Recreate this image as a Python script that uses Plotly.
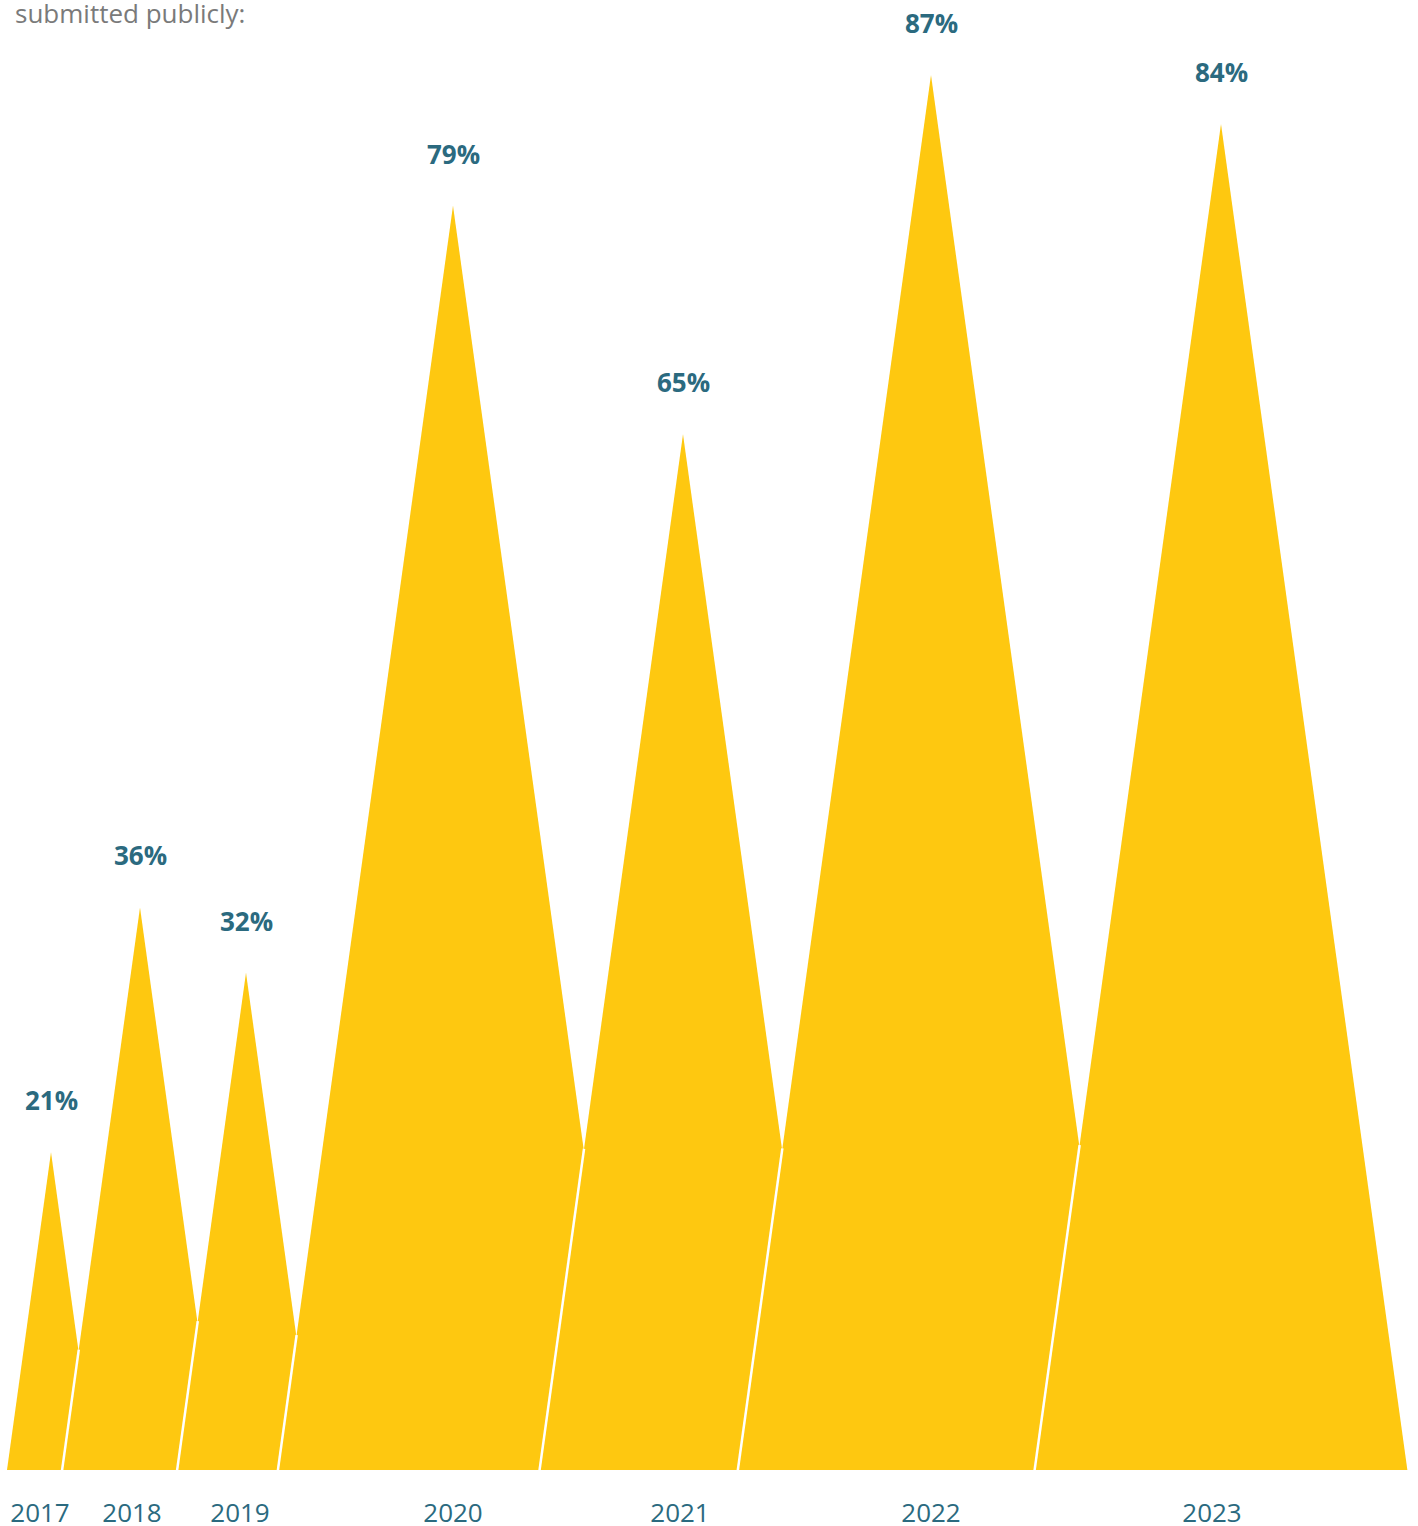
import plotly.graph_objects as go

# Share of submissions made public, by year
years = ["2017", "2018", "2019", "2020", "2021", "2022", "2023"]
share_pct = [21, 36, 32, 79, 65, 87, 84]

# Horizontal layout of the peaks (axis units) and where each year label sits
peak_x = [51, 140, 246, 453, 683, 931, 1221]
label_x = [40, 132, 240, 453, 680, 931, 1212]

# Half of a peak's base width per percentage point (all peaks share one slope)
HALF_BASE_PER_PCT = 2.26

YELLOW = "#fec810"
TEAL = "#2b6a7f"
GREY = "#7a7a7a"
FONT = "Open Sans"

k = HALF_BASE_PER_PCT
fig = go.Figure()

for i, (yr, v, xc) in enumerate(zip(years, share_pct, peak_x)):
    hw = v * k
    # the peak itself
    fig.add_trace(go.Scatter(
        x=[xc - hw, xc, xc + hw, xc - hw],
        y=[0, v, 0, 0],
        mode="lines",
        fill="toself",
        fillcolor=YELLOW,
        line=dict(width=0, color=YELLOW),
        hoverinfo="skip",
        name=yr,
        showlegend=False,
    ))
    # white seam along the left flank, up to where it meets the previous peak
    if i > 0:
        pv, pxc = share_pct[i - 1], peak_x[i - 1]
        y_meet = (pxc - xc) / (2 * k) + (pv + v) / 2
        y_top = min(v, y_meet + 0.1)
        fig.add_trace(go.Scatter(
            x=[xc - hw, xc - k * (v - y_top)],
            y=[0, y_top],
            mode="lines",
            line=dict(color="white", width=2.5),
            hoverinfo="skip",
            showlegend=False,
        ))
    fig.add_annotation(
        x=xc, y=v, text=f"<b>{v}%</b>", showarrow=False,
        yanchor="middle", yshift=52,
        font=dict(family=FONT, size=26, color=TEAL),
    )

fig.add_annotation(
    xref="paper", yref="paper", x=0.0, y=1.0,
    xanchor="left", yanchor="middle", xshift=13, yshift=-13,
    text="submitted publicly:", showarrow=False,
    font=dict(family=FONT, size=26, color=GREY),
)

fig.update_layout(
    template="none",
    width=1418, height=1526,
    margin=dict(l=0, r=0, t=0, b=56, pad=0, autoexpand=False),
    plot_bgcolor="white", paper_bgcolor="white",
    font=dict(family=FONT),
    xaxis=dict(
        range=[0, 1418], showgrid=False, zeroline=False, showline=False,
        automargin=False,
        tickmode="array", tickvals=label_x, ticktext=years, ticks="",
        ticklabelstandoff=25,
        tickfont=dict(family=FONT, size=26, color=TEAL),
        fixedrange=True,
    ),
    yaxis=dict(
        range=[1.53, 91.6], showgrid=False, zeroline=False, showline=False,
        automargin=False,
        showticklabels=False, ticks="", fixedrange=True,
    ),
)

fig.write_html("out.html")
